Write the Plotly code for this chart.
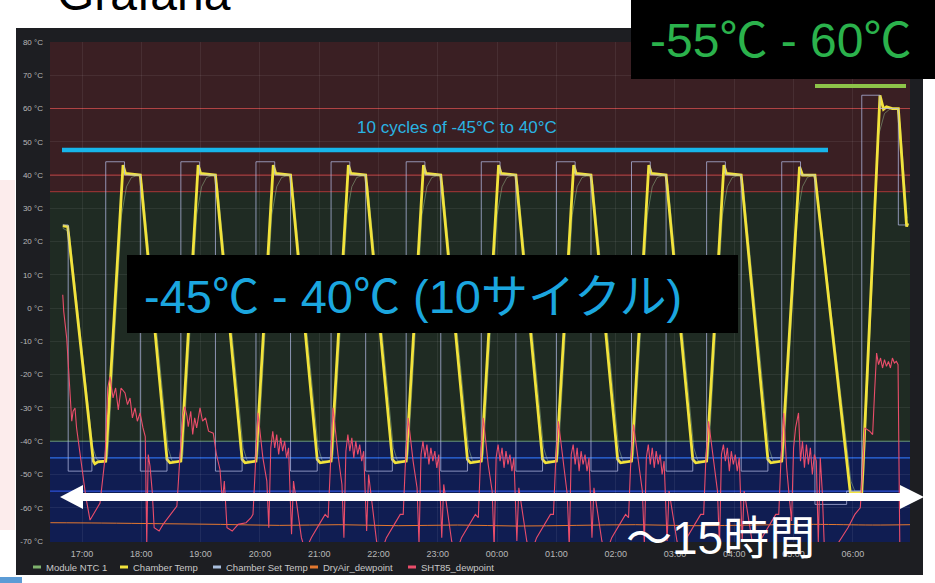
import pandas as pd
import plotly.graph_objects as go

# ---------------- data (minutes after 16:00, value in °C) ----------------
BASE = pd.Timestamp("2021-03-01 16:00")

set_temp_t = [40.5, 46, 70,
              84, 103, 119, 146, 160, 179, 195, 222, 236, 255, 271, 298,
              312, 331, 347, 374, 388, 407, 423, 450, 464, 483, 499, 526,
              540, 559, 575, 602, 616, 635, 651, 678, 692, 711, 727, 754,
              768, 787, 801.6, 833.7, 849, 867.4, 886, 894]
set_temp_v = [25, -49, -45,
              44, 40, -49, -45, 44, 40, -49, -45, 44, 40, -49, -45,
              44, 40, -49, -45, 44, 40, -49, -45, 44, 40, -49, -45,
              44, 40, -49, -45, 44, 40, -49, -45, 44, 40, -49, -45,
              44, 40, -59, -55, 64, 60, 25, 25]

chamber_t = [40.5, 45.5, 71.4, 73, 76, 84,
             101.5, 104, 119, 146, 149, 158, 160,
             177.5, 180, 195, 222, 225, 234, 236,
             253.5, 256, 271, 298, 301, 310, 312,
             329.5, 332, 347, 374, 377, 386, 388,
             405.5, 408, 423, 450, 453, 462, 464,
             481.5, 484, 499, 526, 529, 538, 540,
             557.5, 560, 575, 602, 605, 614, 616,
             633.5, 636, 651, 678, 681, 690, 692,
             709.5, 712, 727, 754, 757, 766, 768,
             786, 789, 801.6, 837.4, 849, 867.4, 871, 874, 880, 886, 894.4, 895.5]
chamber_v = [24.7, 24.5, -46, -46.8, -46.2, -46,
             43, 40.5, 40, -45.5, -46.5, -46, -46,
             43, 40.5, 40, -45.5, -46.5, -46, -46,
             43, 40.5, 40, -45.5, -46.5, -46, -46,
             43, 40.5, 40, -45.5, -46.5, -46, -46,
             43, 40.5, 40, -45.5, -46.5, -46, -46,
             43, 40.5, 40, -45.5, -46.5, -46, -46,
             43, 40.5, 40, -45.5, -46.5, -46, -46,
             43, 40.5, 40, -45.5, -46.5, -46, -46,
             43, 40.5, 40, -45.5, -46.5, -46, -46,
             42.5, 40, 40, -55.5, -55.5, 64, 59.8, 60.5, 60, 60, 24.5, 25.5]

ntc_t = [40.5, 47, 71, 75, 84,
         86, 100, 105, 110, 118, 121, 147, 151, 160,
         162, 176, 181, 186, 194, 197, 223, 227, 236,
         238, 252, 257, 262, 270, 273, 299, 303, 312,
         314, 328, 333, 338, 346, 349, 375, 379, 388,
         390, 404, 409, 414, 422, 425, 451, 455, 464,
         466, 480, 485, 490, 498, 501, 527, 531, 540,
         542, 556, 561, 566, 574, 577, 603, 607, 616,
         618, 632, 637, 642, 650, 653, 679, 683, 692,
         694, 708, 713, 718, 726, 729, 755, 759, 768,
         770, 784, 789, 794, 800, 803, 838, 842, 849, 851, 866, 872, 878, 885, 888, 895]
ntc_v = [24, 23, -42, -45.5, -46.3,
         -44, 28, 36.5, 39.3, 40, 37, -42, -45.8, -46.3,
         -44, 28, 36.5, 39.3, 40, 37, -42, -45.8, -46.3,
         -44, 28, 36.5, 39.3, 40, 37, -42, -45.8, -46.3,
         -44, 28, 36.5, 39.3, 40, 37, -42, -45.8, -46.3,
         -44, 28, 36.5, 39.3, 40, 37, -42, -45.8, -46.3,
         -44, 28, 36.5, 39.3, 40, 37, -42, -45.8, -46.3,
         -44, 28, 36.5, 39.3, 40, 37, -42, -45.8, -46.3,
         -44, 28, 36.5, 39.3, 40, 37, -42, -45.8, -46.3,
         -44, 28, 36.5, 39.3, 40, 37, -42, -45.8, -46.3,
         -44, 28, 36.5, 39.3, 40, 37, -52, -55, -55, -50, 52, 58.5, 60, 60, 55, 27]

dryair_t = [28, 80, 140, 200, 260, 320, 380, 440, 500, 560, 620, 680, 740, 800, 860, 898]
dryair_v = [-64.5, -64.6, -64.8, -65.0, -65.3, -65.1, -65.4, -65.2, -65.5, -65.3,
            -65.1, -65.4, -65.2, -65.0, -65.2, -65.1]

sht85_points = [
    (40.5, 4), (41.5, -1), (44.5, -9), (47, -22), (49.6, -34), (51, -31), (52.9, -30),
    (54.5, -36), (56.3, -40), (59.7, -48), (64, -57), (68.1, -63.7), (73, -61), (78.2, -58.6),
    (83.3, -45), (86, -24), (88.3, -20.6), (91.4, -27), (94, -24), (96.7, -30.6), (99.5, -24),
    (103.5, -25.5), (106, -29), (108.6, -27), (111, -33), (113.6, -30), (116, -34), (118.7, -31.5),
    (121.7, -36), (124, -38.6), (125.5, -71), (127, -44), (128.8, -47.5), (131, -55), (133, -66),
    (138, -67), (142, -65), (150, -62), (156, -59.5), (159, -45), (162, -32.5),
    (164, -29.6), (166.2, -32.5), (167.5, -35.6), (170, -31), (172, -38), (174, -33), (176, -36),
    (179.4, -30), (182, -34), (185, -33), (188, -37), (192.8, -37.6), (196, -44), (199.6, -48.5),
    (202, -58), (204, -52), (206.7, -66), (212, -67), (218, -65), (226, -64.5), (231, -63),
    (233, -62), (235, -50), (238, -31.5), (243, -45), (247, -52), (249, -66), (251, -42), (253, -37),
    (255, -42), (257, -38), (259, -44), (261, -39), (263, -43), (265, -40), (267, -45), (269, -42),
    (272, -68), (274, -52), (282, -69), (286, -73), (292, -69), (300, -65), (306, -62),
    (309, -63), (311, -49), (314, -30), (319, -44), (323, -53), (325, -69), (327, -43), (329, -38),
    (331, -43), (333, -39), (335, -45), (337, -40), (339, -44), (341, -41), (343, -46), (345, -43),
    (348, -67), (350, -50), (358, -70), (362, -74), (368, -69), (376, -65), (382, -62),
    (385, -62), (387, -48), (390, -33), (395, -46), (399, -54), (401, -71), (403, -44), (405, -40),
    (407, -45), (409, -41), (411, -47), (413, -42), (415, -46), (417, -43), (419, -48), (421, -44),
    (424, -69), (426, -53), (434, -70), (438, -74), (444, -69), (452, -65), (458, -62),
    (461, -63), (463, -47), (466, -33), (471, -47), (475, -55), (477, -72), (479, -45), (481, -41),
    (483, -46), (485, -42), (487, -48), (489, -43), (491, -47), (493, -44), (495, -49), (497, -45),
    (500, -70), (502, -54), (510, -70), (514, -74), (520, -69), (528, -65), (534, -62),
    (537, -62), (539, -48), (542, -34), (547, -46), (551, -56), (553, -72), (555, -44), (557, -41),
    (559, -47), (561, -42), (563, -49), (565, -43), (567, -47), (569, -44), (571, -49), (573, -45),
    (576, -69), (578, -54), (586, -70), (590, -74), (596, -69), (604, -65), (610, -62),
    (613, -63), (615, -48), (618, -35), (623, -47), (627, -55), (629, -71), (631, -45), (633, -41),
    (635, -47), (637, -42), (639, -48), (641, -43), (643, -47), (645, -44), (647, -50), (649, -46),
    (652, -70), (654, -55), (662, -70), (666, -74), (672, -69), (680, -65), (686, -62),
    (689, -62), (691, -47), (694, -34), (699, -46), (703, -55), (705, -72), (707, -44), (709, -41),
    (711, -46), (713, -42), (715, -49), (717, -43), (719, -47), (721, -44), (723, -49), (725, -45),
    (728, -70), (730, -55), (738, -70), (742, -74), (748, -69), (756, -65), (762, -62),
    (765, -62), (767, -47), (770, -31.5), (773, -48), (776, -58), (778, -64), (780, -42), (782, -36),
    (785, -31.5), (787, -46), (789, -40), (791, -48), (793, -41), (795, -47), (797, -42), (799, -50),
    (801, -44), (803, -46), (805, -70.5), (807, -45), (809, -55), (811, -71), (820, -73),
    (827, -69.7), (835, -66), (842, -62), (847.5, -60), (850, -48), (852, -36), (857, -37),
    (860, -38), (862, -25), (864, -13.5), (866, -17), (868, -15), (870, -18), (872, -15.5),
    (874, -17.5), (876, -16), (878, -18), (880, -15), (882, -16.5), (884, -16), (885.7, -17),
    (886.5, -45), (887.5, -72),
]

y_ticks = list(range(-70, 81, 10))
y_tick_labels = [f"{v} °C" for v in y_ticks]
x_range_min = [27.6, 897.8]

series_names = ["Module NTC 1", "Chamber Temp", "Chamber Set Temp", "DryAir_dewpoint", "SHT85_dewpoint"]
series_colors = ["#7eb26d", "#f2e33c", "#a9bedd", "#e4782f", "#ea4d6a"]

# ---------------- helpers ----------------
W, H = 935, 583
L, R, T, B = 50, 25, 42, 41
PW, PH = W - L - R, H - T - B


def ts(mins):
    return [BASE + pd.Timedelta(minutes=m) for m in mins]


def px(x):
    return (x - L) / PW


def py(y):
    return 1 - (y - T) / PH


sht_t = [p[0] for p in sht85_points]
sht_v = [p[1] for p in sht85_points]

fig = go.Figure()
fig.add_trace(go.Scatter(x=ts(ntc_t), y=ntc_v, mode="lines", name=series_names[0],
                         line=dict(color="rgba(150,190,140,0.5)", width=1)))
fig.add_trace(go.Scatter(x=ts(chamber_t), y=chamber_v, mode="lines", name=series_names[1],
                         line=dict(color=series_colors[1], width=2.8)))
fig.add_trace(go.Scatter(x=ts(set_temp_t), y=set_temp_v, mode="lines", name=series_names[2],
                         line=dict(color="rgba(178,184,226,0.75)", width=1, shape="hv")))
fig.add_trace(go.Scatter(x=ts(dryair_t), y=dryair_v, mode="lines", name=series_names[3],
                         line=dict(color=series_colors[3], width=1, shape="spline")))
fig.add_trace(go.Scatter(x=ts(sht_t), y=sht_v, mode="lines", name=series_names[4],
                         line=dict(color=series_colors[4], width=1.1)))

shapes = []
# slide decorations
shapes.append(dict(type="rect", xref="paper", yref="paper", x0=px(0), x1=px(15), y0=py(530), y1=py(180),
                   fillcolor="#fcecec", line=dict(width=0), layer="below"))
shapes.append(dict(type="rect", xref="paper", yref="paper", x0=px(0), x1=px(22), y0=py(583), y1=py(577),
                   fillcolor="#5b9bd5", line=dict(width=0), layer="below"))
# grafana panel
shapes.append(dict(type="rect", xref="paper", yref="paper", x0=px(16), x1=px(923), y0=py(575), y1=py(28),
                   fillcolor="#1d1e22", line=dict(width=0), layer="below"))
# threshold bands
for y0, y1, c in [(35, 80, "#3a1f23"), (-40, 35, "#1f2b23"), (-70.3, -40, "#101d52")]:
    shapes.append(dict(type="rect", xref="paper", yref="y", x0=0, x1=1, y0=y0, y1=y1,
                       fillcolor=c, line=dict(width=0), layer="below"))
for yv, c, w in [(60, "rgba(200,60,60,0.8)", 1), (40, "rgba(210,60,60,0.85)", 1),
                 (35, "rgba(200,60,60,0.8)", 1), (-40, "rgba(110,170,120,0.8)", 1),
                 (-45, "#2c6ee8", 1.3), (-55, "#2b4fd6", 1.2)]:
    shapes.append(dict(type="line", xref="paper", yref="y", x0=0, x1=1, y0=yv, y1=yv,
                       line=dict(color=c, width=w), layer="below"))
# annotation overlays
shapes.append(dict(type="line", xref="paper", yref="paper", x0=px(62), x1=px(828), y0=py(150), y1=py(150),
                   line=dict(color="#17b5ea", width=4.5), layer="above"))
shapes.append(dict(type="line", xref="paper", yref="paper", x0=px(815), x1=px(906), y0=py(86), y1=py(86),
                   line=dict(color="#8dc449", width=4), layer="above"))
shapes.append(dict(type="rect", xref="paper", yref="paper", x0=px(631), x1=px(937), y0=py(79), y1=py(-2),
                   fillcolor="black", line=dict(width=0), layer="above"))
shapes.append(dict(type="rect", xref="paper", yref="paper", x0=px(127), x1=px(738), y0=py(333), y1=py(255),
                   fillcolor="black", line=dict(width=0), layer="above"))
arrow_pts = [(60, 497), (83, 485), (83, 493), (900, 493), (900, 485), (924, 497),
             (900, 509), (900, 501), (83, 501), (83, 509)]
path = "M " + " L ".join(f"{px(a):.5f},{py(b):.5f}" for a, b in arrow_pts) + " Z"
shapes.append(dict(type="path", xref="paper", yref="paper", path=path,
                   fillcolor="white", line=dict(width=0), layer="above"))

JP = "Liberation Sans, Arial, Noto Sans CJK JP, sans-serif"
SANS = "Liberation Sans, Arial, sans-serif"
annotations = [
    dict(text="Grafana", x=px(55), y=py(22), xref="paper", yref="paper", xanchor="left", yanchor="bottom",
         showarrow=False, font=dict(size=48, color="black", family=JP)),
    dict(text="-55℃ - 60℃", x=px(648), y=py(40), xref="paper", yref="paper", xanchor="left", yanchor="middle",
         showarrow=False, font=dict(size=48, color="#2bb24c", family=JP)),
    dict(text="-45℃ - 40℃ (10サイクル)", x=px(142), y=py(296), xref="paper", yref="paper", xanchor="left",
         yanchor="middle", showarrow=False, font=dict(size=47, color="#1ba6df", family=JP)),
    dict(text="10 cycles of -45°C to 40°C", x=px(457), y=py(128), xref="paper", yref="paper",
         xanchor="center", yanchor="middle", showarrow=False,
         font=dict(size=17, color="#2ab4e2", family=SANS)),
    dict(text="〜15時間", x=px(624), y=py(538), xref="paper", yref="paper", xanchor="left", yanchor="middle",
         showarrow=False, font=dict(size=46, color="white", family=JP)),
]

# Grafana-style legend row (short line swatches + labels)
legend_marker_x = [33, 120, 213, 310, 408]
for name, color, mx in zip(series_names, series_colors, legend_marker_x):
    shapes.append(dict(type="line", xref="paper", yref="paper", x0=px(mx), x1=px(mx + 8),
                       y0=py(567), y1=py(567), line=dict(color=color, width=3), layer="above"))
    annotations.append(dict(text=name, x=px(mx + 11), y=py(567), xref="paper", yref="paper",
                            xanchor="left", yanchor="middle", showarrow=False,
                            font=dict(size=9.5, color="#c8c8c8", family=SANS)))

fig.update_layout(
    width=W, height=H,
    margin=dict(l=L, r=R, t=T, b=B, pad=0, autoexpand=False),
    paper_bgcolor="white",
    plot_bgcolor="#1d1e22",
    shapes=shapes,
    annotations=annotations,
    showlegend=False,
    xaxis=dict(type="date", range=ts(x_range_min), tick0=BASE + pd.Timedelta(hours=1), dtick=3600000,
               tickformat="%H:%M", tickfont=dict(size=9, color="#b8b8b8", family=SANS),
               showgrid=True, gridcolor="rgba(255,255,255,0.07)", zeroline=False, showline=False, ticks="",
               ticklabelstandoff=5, automargin=False),
    yaxis=dict(range=[-70.3, 80], tickmode="array", tickvals=y_ticks, ticktext=y_tick_labels,
               tickfont=dict(size=8, color="#b8b8b8", family=SANS),
               showgrid=True, gridcolor="rgba(255,255,255,0.07)", zeroline=False, showline=False, ticks="",
               ticklabelstandoff=6, automargin=False),
)

fig.write_html("out.html", config={"displayModeBar": False},
               post_script="document.body.style.margin='0';document.body.style.overflow='hidden';")
